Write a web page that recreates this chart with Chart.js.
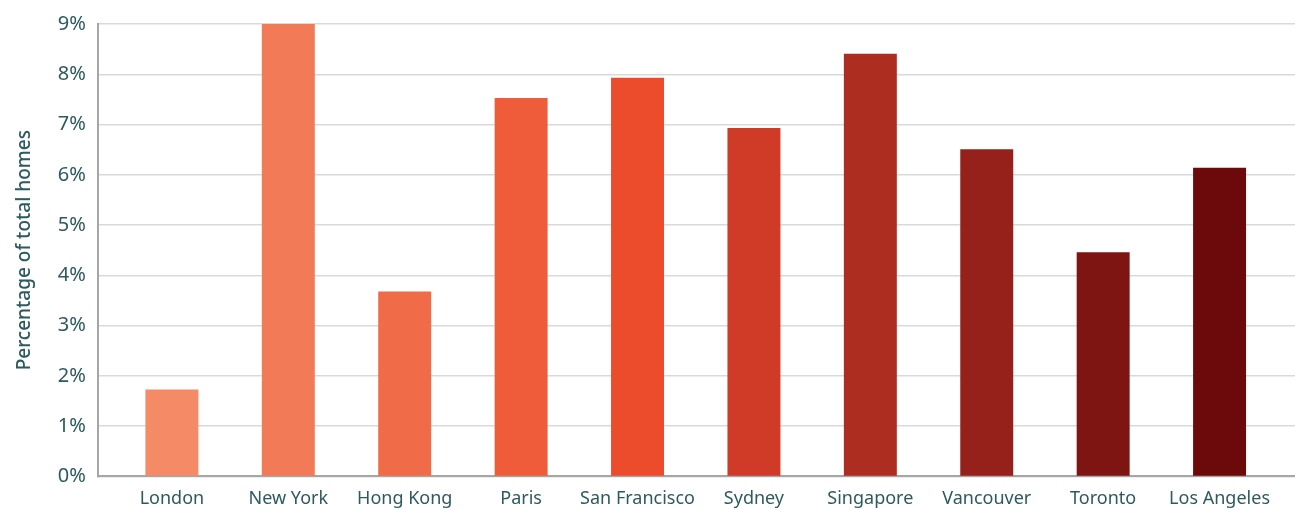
<!DOCTYPE html>
<html>
<head>
<meta charset="utf-8">
<script src="https://cdn.jsdelivr.net/npm/chart.js@4"></script>
<style>
  html, body { margin: 0; padding: 0; background: #fff; }
  #wrap { width: 1295px; height: 510px; }
</style>
</head>
<body>
<div id="wrap"><canvas id="chart" width="1295" height="510"></canvas></div>
<script>
const cities = ['London', 'New York', 'Hong Kong', 'Paris', 'San Francisco', 'Sydney', 'Singapore', 'Vancouver', 'Toronto', 'Los Angeles'];
const shares = [1.73, 9.0, 3.68, 7.53, 7.93, 6.93, 8.41, 6.51, 4.46, 6.14];
const barColors = ['#f48a66', '#f37a57', '#f06b48', '#ee5c3a', '#ec4b2c', '#cf3b27', '#ad2e21', '#96201a', '#7f1513', '#6b090b'];

const textColor = '#2d5a60';
const fontFamily = "'Noto Sans', 'Open Sans', sans-serif";

// the original plot leaves a little extra room at both ends of the category axis
const xMin = -0.636;
const xMax = cities.length - 1 + 0.648;

new Chart(document.getElementById('chart').getContext('2d'), {
  type: 'bar',
  data: {
    datasets: [{
      data: shares.map((v, i) => ({ x: i, y: v })),
      backgroundColor: barColors,
      categoryPercentage: 1,
      barPercentage: 0.455
    }]
  },
  options: {
    responsive: false,
    animation: false,
    layout: { padding: { top: 14, right: 0, left: 13, bottom: -12 } },
    plugins: {
      legend: { display: false },
      tooltip: { enabled: false }
    },
    scales: {
      x: {
        type: 'linear',
        min: xMin,
        max: xMax,
        offset: false,
        afterBuildTicks: (axis) => {
          axis.ticks = cities.map((_, i) => ({ value: i }));
        },
        grid: { display: false, drawTicks: false, offset: false },
        border: { color: '#a6a6a6', width: 2 },
        ticks: {
          color: textColor,
          font: { family: fontFamily, size: 18 },
          padding: 12,
          maxRotation: 0,
          autoSkip: false,
          callback: (v) => cities[v]
        }
      },
      y: {
        min: 0,
        max: 9,
        grid: { color: '#d9d9d9', lineWidth: 1.5, drawTicks: false },
        border: { color: '#a6a6a6', width: 2 },
        ticks: {
          stepSize: 1,
          color: textColor,
          font: { family: fontFamily, size: 20 },
          padding: 12,
          callback: (v) => v + '%'
        },
        title: {
          display: true,
          text: 'Percentage of total homes',
          color: textColor,
          font: { family: fontFamily, size: 19, weight: '500' },
          padding: { top: 0, bottom: 10 }
        }
      }
    }
  }
});
</script>
</body>
</html>
